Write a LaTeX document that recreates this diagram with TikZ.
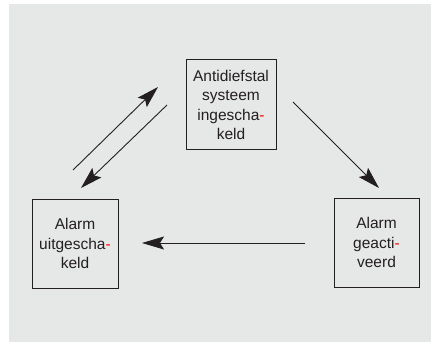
\documentclass[tikz,border=0pt]{standalone}
\usepackage{fontspec}
\setmainfont{Liberation Sans}
\usetikzlibrary{arrows.meta}
\definecolor{bg}{HTML}{E6E7E7}
\definecolor{ln}{HTML}{231F20}
\begin{document}
\begin{tikzpicture}[x=1pt,y=-1pt,
  box/.style={draw=ln,line width=1pt,fill=bg,align=center,inner sep=0pt,
    font=\fontsize{15.5}{19.3}\selectfont,text=ln},
  conn/.style={draw=ln,line width=0.9pt,-{Stealth[length=22pt,width=13pt,inset=4pt]}}]
\useasboundingbox (0,0) rectangle (431,342);
\fill[bg] (9,4) rectangle (431,342);
\node[box,minimum width=90pt,minimum height=90pt] (top) at (231,105)
  {Antidiefstal\\systeem\\ingescha{\color{red}-}\\keld};
\node[box,minimum width=86pt,minimum height=89pt] (left) at (75,243.5)
  {Alarm\\uitgescha{\color{red}-}\\keld};
\node[box,minimum width=85pt,minimum height=89pt] (right) at (376.5,242.5)
  {Alarm\\geacti{\color{red}-}\\veerd};
\coordinate (u1) at (73,170);
\coordinate (u2) at (158,87);
\coordinate (d1) at (167,105);
\coordinate (d2) at (81,188);
\coordinate (r1) at (293,102);
\coordinate (r2) at (379,188);
\coordinate (h1) at (305,243);
\coordinate (h2) at (142,243);
\draw[conn] (u1) -- (u2);
\draw[conn] (d1) -- (d2);
\draw[conn] (r1) -- (r2);
\draw[conn] (h1) -- (h2);
\end{tikzpicture}
\end{document}
